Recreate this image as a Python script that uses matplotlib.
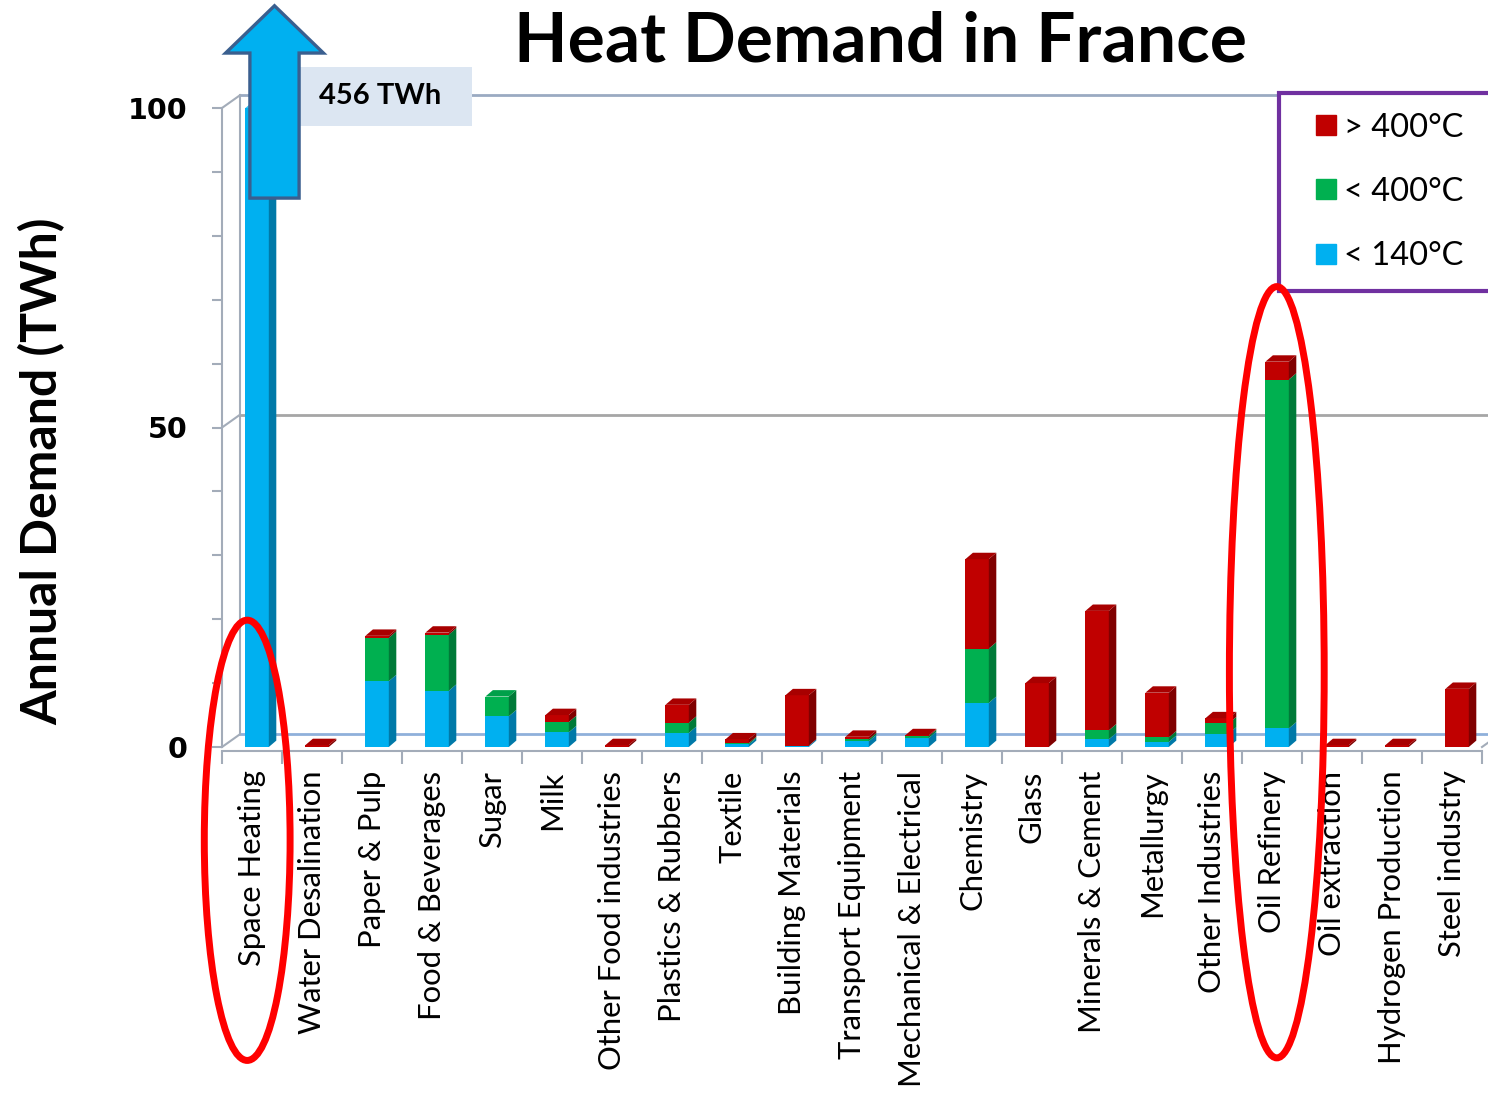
import matplotlib.pyplot as plt
from matplotlib.patches import Polygon, Rectangle, FancyArrow, Ellipse
from matplotlib.lines import Line2D

categories = ['Space Heating', 'Water Desalination', 'Paper & Pulp', 'Food & Beverages',
              'Sugar', 'Milk', 'Other Food industries', 'Plastics & Rubbers', 'Textile',
              'Building Materials', 'Transport Equipment', 'Mechanical & Electrical',
              'Chemistry', 'Glass', 'Minerals & Cement', 'Metallurgy', 'Other Industries',
              'Oil Refinery', 'Oil extraction', 'Hydrogen Production', 'Steel industry']
# annual demand in TWh per temperature band
low = [456, 0, 10.3, 8.8, 4.8, 2.3, 0, 2.2, 0.4, 0.2, 0.9, 1.4, 6.9, 0, 1.2, 0.8, 2.1, 2.9, 0, 0, 0]
mid = [0, 0, 6.8, 8.8, 3.1, 1.6, 0, 1.6, 0.2, 0, 0.3, 0.3, 8.5, 0, 1.4, 0.7, 1.6, 54.6, 0, 0, 0]
high = [0, 0.3, 0.3, 0.3, 0, 1.1, 0.3, 2.8, 0.6, 7.9, 0.4, 0.15, 14.0, 10.0, 18.7, 7.0, 0.8, 2.8, 0.3, 0.3, 9.1]
series = [(low, '< 140°C', '#00B0F0', '#0079A8', '#33C0F3'),
          (mid, '< 400°C', '#00B050', '#007A38', '#00A04A'),
          (high, '> 400°C', '#C00000', '#800000', '#A80000')]
ymax = 100
total_label = '456 TWh'

W, H = 1488, 1095
fig = plt.figure(figsize=(W / 100, H / 100), dpi=100)
ax = fig.add_axes([222 / W, 1 - 747 / H, 1260 / W, 639 / H])
ax.set_xlim(0, len(categories))
ax.set_ylim(0, ymax)

grey = '#A3ACB9'
wall = '#9AAAC2'
dxw, dyw = 0.3, 2.0      # depth of the back wall
dxb, dyb = 0.125, 1.0    # depth of each bar
bw = 0.39

# back wall and floor
n = len(categories)
ax.plot([dxw, dxw], [dyw, ymax + dyw], color=grey, lw=1.5, clip_on=False, zorder=1)
for v, c in [(0, '#8FB0DA'), (50, '#A6A6A6'), (100, wall)]:
    ax.plot([dxw, n + dxw], [v + dyw, v + dyw], color=c, lw=2, clip_on=False, zorder=1)
    ax.plot([0, dxw], [v, v + dyw], color=grey, lw=1.5, clip_on=False, zorder=1)
ax.plot([n, n + dxw], [0, dyw], color=grey, lw=1.5, clip_on=False, zorder=1)

# stacked 3D-looking bars
for i in range(n):
    bottom = 0.0
    top_color = None
    for vals, lab, face, side, topc in series:
        v = vals[i]
        if v <= 0 or bottom >= ymax:
            continue
        t = min(bottom + v, ymax)
        xl = i + 0.39
        ax.bar(xl, t - bottom, width=bw, bottom=bottom, align='edge', color=face,
               lw=0, zorder=2)
        xr = xl + bw
        ax.add_patch(Polygon([(xr, bottom), (xr + dxb, bottom + dyb), (xr + dxb, t + dyb), (xr, t)],
                             closed=True, fc=side, lw=0, zorder=2, clip_on=False))
        bottom = t
        top_color = topc
    if top_color is not None:
        xl = i + 0.39
        ax.add_patch(Polygon([(xl, bottom), (xl + bw, bottom), (xl + bw + dxb, bottom + dyb),
                              (xl + dxb, bottom + dyb)],
                             closed=True, fc=top_color, lw=0, zorder=2, clip_on=False))

# axes styling
for s in ['top', 'right']:
    ax.spines[s].set_visible(False)
for s in ['left', 'bottom']:
    ax.spines[s].set_color(grey)
    ax.spines[s].set_linewidth(1.5)
ax.spines['bottom'].set_position(('outward', 3))
ax.set_yticks([0, 50, 100])
ax.set_yticks(range(10, 100, 10), minor=True)
ax.tick_params(axis='y', which='both', length=7, width=1.5, color=grey, pad=18)
ax.set_yticklabels(['0', '50', '100'], fontsize=20.5, fontweight='bold', family='DejaVu Sans')
ax.set_xticks([i + 0.5 for i in range(n)])
ax.set_xticks(range(n + 1), minor=True)
ax.tick_params(axis='x', which='major', length=0, pad=14)
ax.tick_params(axis='x', which='minor', length=9, width=1.5, color=grey)
ax.set_xticklabels(categories, rotation=90, fontsize=22.3, family='Lato')

# 456 TWh call-out for space heating
ax.add_patch(Rectangle((1.1, 97.2), 3.07, 9.2, fc='#DCE6F2', lw=0, clip_on=False, zorder=4))
ax.text(2.63, 101.8, total_label, ha='center', va='center', fontsize=21, fontweight='bold',
        family='Lato', zorder=5)
ax.add_patch(FancyArrow(0.875, 85.9, 0, 30.1, width=0.82, head_width=1.63, head_length=7.4,
                        length_includes_head=True, fc='#00B0F0', ec='#3A5F8F', lw=2.4,
                        joinstyle='miter', clip_on=False, zorder=5))

# highlight rings
ax.add_patch(Ellipse((0.42, -14.6), 1.43, 68.9, fill=False, ec='#FF0000', lw=5,
                     clip_on=False, zorder=7))
ax.add_patch(Ellipse((17.58, 11.7), 1.58, 120.7, fill=False, ec='#FF0000', lw=5,
                     clip_on=False, zorder=7))

# legend
handles = [Line2D([], [], ls='', marker='s', markersize=14.5, color=c, label=lab)
           for vals, lab, c, _, _ in reversed(series)]
leg = ax.legend(handles=handles, loc='upper left', mode='expand',
                bbox_to_anchor=(1279 / W, 1 - 290 / H, 240 / W, 197 / H),
                bbox_transform=fig.transFigure, prop={'family': 'Lato', 'size': 23.5},
                frameon=True, fancybox=False, borderaxespad=0, borderpad=0.6,
                labelspacing=1.05, handlelength=1.65, handletextpad=-0.25)
leg.get_frame().set_edgecolor('#7030A0')
leg.get_frame().set_linewidth(3)
leg.get_frame().set_alpha(1)
leg.set_zorder(6)

fig.text(880 / W, 1 - 42 / H, 'Heat Demand in France', ha='center', va='center',
         fontsize=50, fontweight='bold', family='Lato')
fig.text(42 / W, 1 - 471 / H, 'Annual Demand (TWh)', ha='center', va='center', rotation=90,
         fontsize=36, fontweight='bold', family='Lato')

fig.savefig('out.png', dpi=100)
